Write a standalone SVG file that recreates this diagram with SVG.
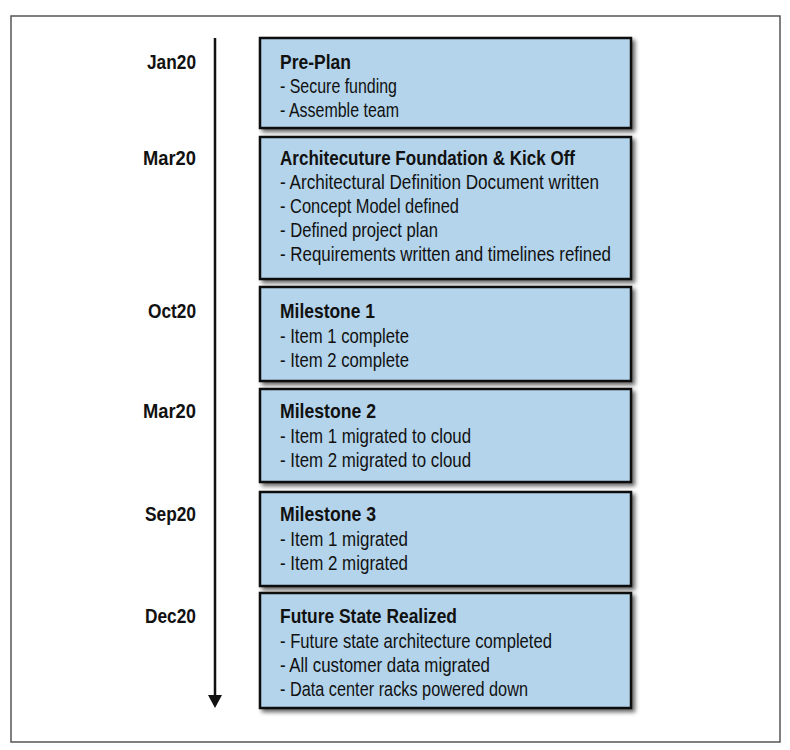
<svg xmlns="http://www.w3.org/2000/svg" width="790" height="750" viewBox="0 0 790 750">
<defs>
<filter id="sh" x="-5%" y="-5%" width="115%" height="125%">
<feGaussianBlur in="SourceAlpha" stdDeviation="2"/>
<feOffset dx="3" dy="3" result="b"/>
<feComponentTransfer><feFuncA type="linear" slope="0.6"/></feComponentTransfer>
<feMerge><feMergeNode/><feMergeNode in="SourceGraphic"/></feMerge>
</filter>
</defs>
<style>
.box{fill:#b3d4eb;stroke:#111;stroke-width:2.5;filter:url(#sh)}
.t{font-family:"Liberation Sans",Arial,sans-serif;font-size:20.5px;fill:#111}
.b{font-weight:bold}
.d{font-family:"Liberation Sans",Arial,sans-serif;font-size:20.5px;font-weight:bold;fill:#111;text-anchor:end}
</style>
<rect x="11" y="16" width="769" height="726" fill="#fff" stroke="#555" stroke-width="1.5"/>
<g id="connectors">
<line x1="215" y1="38" x2="215" y2="697" stroke="#111" stroke-width="2.5"/>
<polygon points="208,695 222,695 215,708" fill="#111"/>
</g>
<g id="dates">
<text class="d" x="196" y="69" textLength="49" lengthAdjust="spacingAndGlyphs">Jan20</text>
<text class="d" x="196" y="165" textLength="53" lengthAdjust="spacingAndGlyphs">Mar20</text>
<text class="d" x="196" y="318" textLength="48" lengthAdjust="spacingAndGlyphs">Oct20</text>
<text class="d" x="196" y="418" textLength="53" lengthAdjust="spacingAndGlyphs">Mar20</text>
<text class="d" x="196" y="521" textLength="51" lengthAdjust="spacingAndGlyphs">Sep20</text>
<text class="d" x="196" y="623" textLength="51" lengthAdjust="spacingAndGlyphs">Dec20</text>
</g>
<g id="preplan">
<rect class="box" x="260" y="38" width="371" height="90"/>
<text class="t b" x="280" y="69" textLength="71" lengthAdjust="spacingAndGlyphs">Pre-Plan</text>
<text class="t" x="280" y="93" textLength="117" lengthAdjust="spacingAndGlyphs">- Secure funding</text>
<text class="t" x="280" y="117" textLength="119" lengthAdjust="spacingAndGlyphs">- Assemble team</text>
</g>
<g id="foundation">
<rect class="box" x="260" y="137" width="371" height="142"/>
<text class="t b" x="280" y="165" textLength="295" lengthAdjust="spacingAndGlyphs">Architecuture Foundation &amp; Kick Off</text>
<text class="t" x="280" y="189" textLength="319" lengthAdjust="spacingAndGlyphs">- Architectural Definition Document written</text>
<text class="t" x="280" y="213" textLength="179" lengthAdjust="spacingAndGlyphs">- Concept Model defined</text>
<text class="t" x="280" y="237" textLength="158" lengthAdjust="spacingAndGlyphs">- Defined project plan</text>
<text class="t" x="280" y="261" textLength="331" lengthAdjust="spacingAndGlyphs">- Requirements written and timelines refined</text>
</g>
<g id="milestone1">
<rect class="box" x="260" y="287" width="371" height="94"/>
<text class="t b" x="280" y="318" textLength="95" lengthAdjust="spacingAndGlyphs">Milestone 1</text>
<text class="t" x="280" y="343" textLength="129" lengthAdjust="spacingAndGlyphs">- Item 1 complete</text>
<text class="t" x="280" y="367" textLength="129" lengthAdjust="spacingAndGlyphs">- Item 2 complete</text>
</g>
<g id="milestone2">
<rect class="box" x="260" y="389" width="371" height="93"/>
<text class="t b" x="280" y="418" textLength="96" lengthAdjust="spacingAndGlyphs">Milestone 2</text>
<text class="t" x="280" y="443" textLength="191" lengthAdjust="spacingAndGlyphs">- Item 1 migrated to cloud</text>
<text class="t" x="280" y="467" textLength="191" lengthAdjust="spacingAndGlyphs">- Item 2 migrated to cloud</text>
</g>
<g id="milestone3">
<rect class="box" x="260" y="492" width="371" height="94"/>
<text class="t b" x="280" y="521" textLength="96" lengthAdjust="spacingAndGlyphs">Milestone 3</text>
<text class="t" x="280" y="546" textLength="128" lengthAdjust="spacingAndGlyphs">- Item 1 migrated</text>
<text class="t" x="280" y="570" textLength="128" lengthAdjust="spacingAndGlyphs">- Item 2 migrated</text>
</g>
<g id="future">
<rect class="box" x="260" y="593" width="371" height="115"/>
<text class="t b" x="280" y="623" textLength="177" lengthAdjust="spacingAndGlyphs">Future State Realized</text>
<text class="t" x="280" y="648" textLength="272" lengthAdjust="spacingAndGlyphs">- Future state architecture completed</text>
<text class="t" x="280" y="672" textLength="210" lengthAdjust="spacingAndGlyphs">- All customer data migrated</text>
<text class="t" x="280" y="696" textLength="248" lengthAdjust="spacingAndGlyphs">- Data center racks powered down</text>
</g>
</svg>
